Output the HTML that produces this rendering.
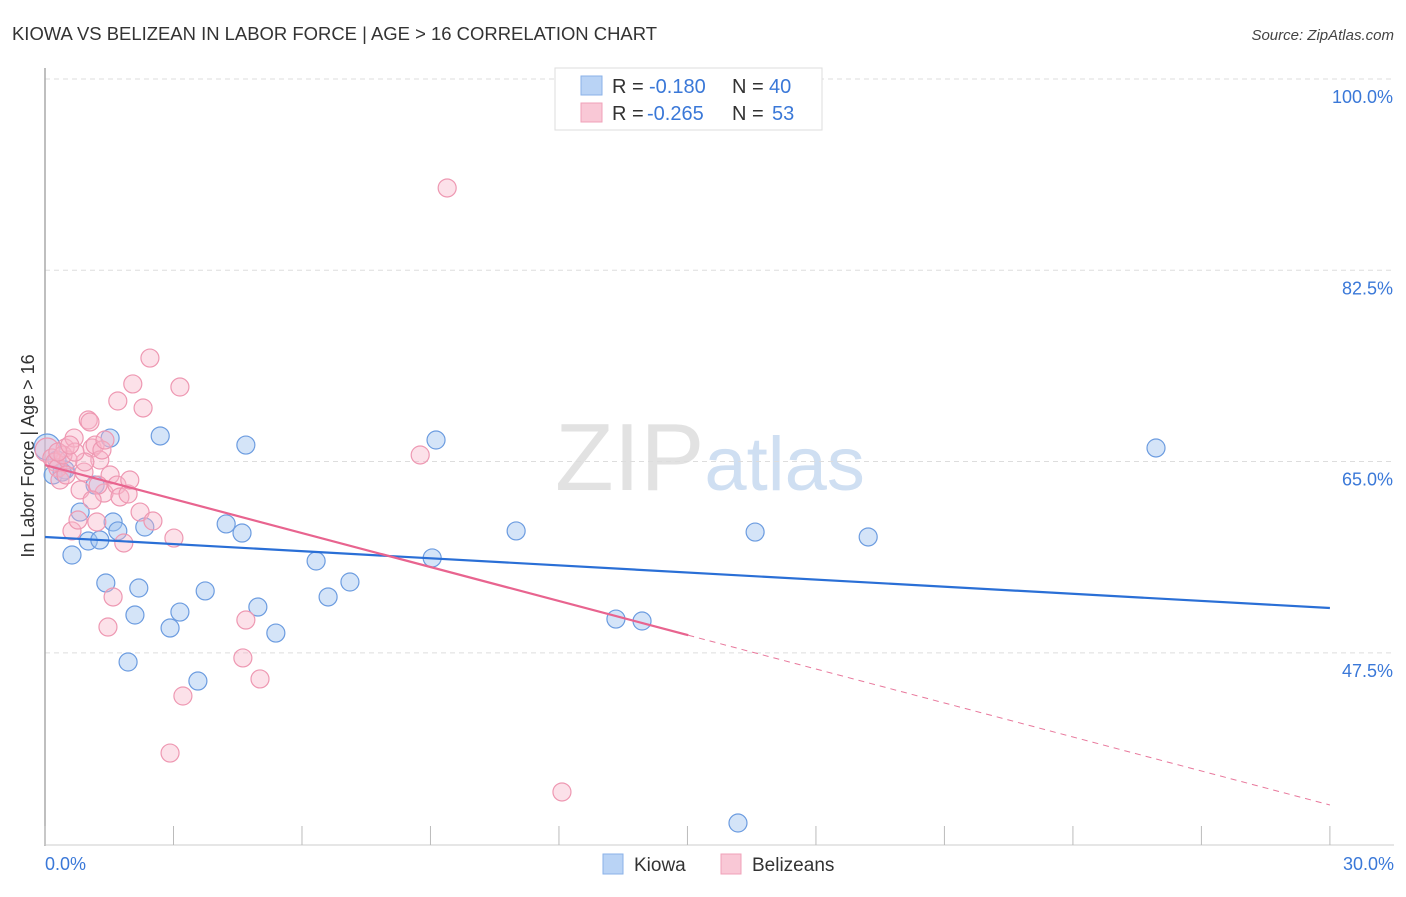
<!DOCTYPE html>
<html><head><meta charset="utf-8"><style>
body{margin:0;background:#fff;font-family:"Liberation Sans",sans-serif;}
svg text{font-family:"Liberation Sans",sans-serif;}
</style></head><body>
<svg id="chart" width="1406" height="892" xmlns="http://www.w3.org/2000/svg">
<text x="12" y="40" font-size="18" fill="#333" textLength="645" lengthAdjust="spacingAndGlyphs">KIOWA VS BELIZEAN IN LABOR FORCE | AGE &gt; 16 CORRELATION CHART</text>
<text x="1394" y="40" font-size="15" font-style="italic" fill="#444" text-anchor="end">Source: ZipAtlas.com</text>
<text x="555" y="490" font-size="96" font-family="Liberation Serif" fill="#e2e2e2">ZIP<tspan font-family="Liberation Sans" fill="#cfdff2" font-size="76">atlas</tspan></text>
<g id="grid"></g>
<line x1="45" y1="68" x2="45" y2="846" stroke="#aaa" stroke-width="1.5"/>
<line x1="45" y1="845" x2="1394" y2="845" stroke="#ccc"/>
<g id="xticks"></g>
<text transform="translate(34,456) rotate(-90)" font-size="18" fill="#333" text-anchor="middle">In Labor Force | Age &gt; 16</text>
<text x="45" y="870" font-size="18" fill="#3a78d8">0.0%</text>
<text x="1394" y="870" font-size="18" fill="#3a78d8" text-anchor="end">30.0%</text>
<g id="pts"></g>
<g id="trends"></g>
<g>
<rect x="555" y="68" width="267" height="62" fill="#fff" stroke="#ddd"/>
<rect x="581" y="76" width="21" height="19" fill="#b9d3f5" stroke="#8ab2e8"/>
<rect x="581" y="103" width="21" height="19" fill="#f9c8d6" stroke="#f0a1b8"/>
<text x="612" y="93" font-size="20" fill="#333">R = <tspan x="649" fill="#3a78d8">-0.180</tspan><tspan x="732">N = </tspan><tspan x="769" fill="#3a78d8">40</tspan></text>
<text x="612" y="120" font-size="20" fill="#333">R = <tspan x="647" fill="#3a78d8">-0.265</tspan><tspan x="732">N = </tspan><tspan x="772" fill="#3a78d8">53</tspan></text>
</g>
<g>
<rect x="603" y="854" width="20" height="20" fill="#b9d3f5" stroke="#8ab2e8"/>
<text x="634" y="871" font-size="19" fill="#333">Kiowa</text>
<rect x="721" y="854" width="20" height="20" fill="#f9c8d6" stroke="#f0a1b8"/>
<text x="752" y="871" font-size="19" fill="#333">Belizeans</text>
</g>
</svg>
<script>
const yTicks=[100,82.5,65,47.5];
const yTickLabels=["100.0%","82.5%","65.0%","47.5%"];
const kiowaX=[0.05,0.19,0.47,0.63,0.82,1.01,1.17,1.28,1.42,1.52,1.59,1.70,1.94,2.10,2.19,2.33,2.69,2.92,3.15,3.57,3.74,4.23,4.60,4.69,4.97,5.39,6.33,6.61,7.12,9.04,9.13,11.00,13.33,13.94,16.18,16.58,19.22,25.94,0.28,0.40];
const kiowaY=[66.33,63.77,64.23,56.45,60.38,57.73,62.85,57.82,53.89,67.15,59.47,58.65,46.66,50.96,53.43,59.01,67.34,49.77,51.23,44.92,53.16,59.29,58.46,66.51,51.69,49.31,55.90,52.61,53.98,56.18,66.97,58.65,50.59,50.41,31.93,58.55,58.10,66.24,65.14,64.04];
const belizeX=[0.05,0.16,0.23,0.30,0.35,0.47,0.54,0.63,0.68,0.77,0.82,0.91,1.01,1.05,1.10,1.17,1.21,1.28,1.33,1.38,1.40,1.47,1.52,1.59,1.68,1.70,1.75,1.84,1.94,2.05,2.22,2.29,2.45,2.52,3.01,3.15,3.22,2.92,4.62,4.69,5.02,8.76,9.39,12.07,0.42,0.93,0.70,0.49,1.24,1.98,0.30,0.58,1.10];
const belizeY=[66.06,65.33,64.96,64.41,63.31,66.24,65.14,58.65,67.15,59.65,62.40,64.04,68.80,68.62,66.24,66.51,59.47,65.14,66.06,62.12,66.97,49.86,63.77,52.61,62.85,70.54,61.76,57.55,62.03,72.10,60.38,69.90,74.47,59.56,58.00,71.82,43.55,38.33,47.03,50.50,45.11,65.60,90.03,34.77,65.60,64.96,65.87,63.77,62.85,63.31,65.87,66.51,61.48];
const kiowaTrend=[58.10,51.60];
const belizeTrend=[64.68,33.58];
const belizeSolidEnd=15.02;
const NS="http://www.w3.org/2000/svg";
const xs=v=>45+v*42.83;
const ys=v=>79+(100-v)*10.93;
function mk(t,a,p){const e=document.createElementNS(NS,t);for(const k in a)e.setAttribute(k,a[k]);p.appendChild(e);return e;}
const grid=document.getElementById('grid');
yTicks.forEach((v,i)=>{
 const l=mk('line',{x1:45,x2:1394,y1:ys(v),y2:ys(v),stroke:'#ddd','stroke-dasharray':'5,4'},grid);
 
 
 const t=mk('text',{x:1393,y:ys(v)+24,'font-size':18,fill:'#3a78d8','text-anchor':'end'},grid);
 t.textContent=yTickLabels[i];
 
 
});
const xt=document.getElementById('xticks');
for(let i=0;i<=10;i++){const l=mk('line',{x1:xs(i*3),x2:xs(i*3),y1:826,y2:845,stroke:'#bbb'},xt);
 
 }
const pts=document.getElementById('pts');
kiowaX.forEach((x,i)=>{const c=mk('circle',{cx:xs(x),cy:ys(kiowaY[i]),r:i==0?13:9,fill:'rgba(160,196,240,0.45)',stroke:'#6c9ce0','stroke-width':1.2},pts);
 
 });
belizeX.forEach((x,i)=>{const c=mk('circle',{cx:xs(x),cy:ys(belizeY[i]),r:i==0?12:9,fill:'rgba(247,180,200,0.4)',stroke:'#ee98b2','stroke-width':1.2},pts);
 
 });
const tr=document.getElementById('trends');
const kl=mk('line',{x1:xs(0),y1:ys(kiowaTrend[0]),x2:xs(30),y2:ys(kiowaTrend[1]),stroke:'#2a6fd6','stroke-width':2.2},tr);


const bAt=x=>belizeTrend[0]+(belizeTrend[1]-belizeTrend[0])*x/30;
const bl=mk('line',{x1:xs(0),y1:ys(bAt(0)),x2:xs(belizeSolidEnd),y2:ys(bAt(belizeSolidEnd)),stroke:'#e8648f','stroke-width':2.2},tr);


const bd=mk('line',{x1:xs(belizeSolidEnd),y1:ys(bAt(belizeSolidEnd)),x2:xs(30),y2:ys(bAt(30)),stroke:'#e8789c','stroke-width':1,'stroke-dasharray':'6,5'},tr);


</script>
</body></html>
